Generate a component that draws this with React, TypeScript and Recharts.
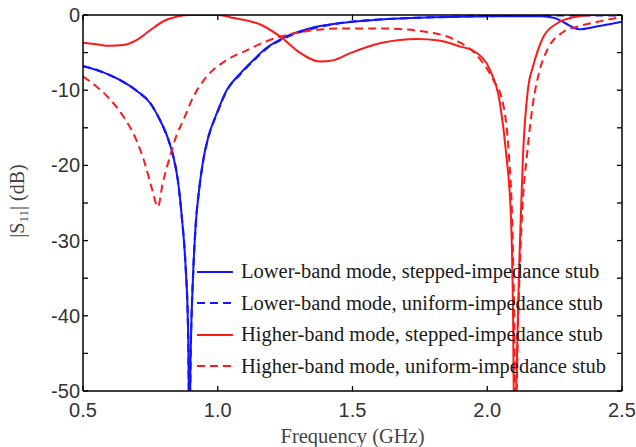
import { LineChart, Line, XAxis, YAxis } from "recharts";

// frequency (GHz) / |S11| (dB)
const lowerSteppedF = [0.5, 0.55, 0.6, 0.65, 0.7, 0.749, 0.786, 0.817, 0.835, 0.852, 0.867, 0.88, 0.89, 0.895, 0.9, 0.908, 0.918, 0.93, 0.946, 0.965, 0.996, 1.033, 1.083, 1.132, 1.18, 1.24, 1.34, 1.45, 1.6, 1.8, 2.0, 2.2, 2.25, 2.29, 2.34, 2.41, 2.5];
const lowerSteppedS = [-6.8, -7.3, -8.0, -8.9, -10.1, -11.7, -14, -16.6, -18.8, -22, -27, -33, -42, -55, -44, -35, -28, -23.5, -19.3, -16.2, -13.1, -10, -7.8, -6.0, -4.4, -3.1, -1.8, -1.1, -0.6, -0.3, -0.15, -0.15, -0.4, -1.1, -1.9, -1.5, -0.9];

const lowerUniformF = [0.5, 0.55, 0.6, 0.65, 0.7, 0.749, 0.786, 0.817, 0.835, 0.852, 0.867, 0.88, 0.89, 0.895, 0.9, 0.908, 0.918, 0.93, 0.946, 0.965, 0.996, 1.033, 1.083, 1.132, 1.18, 1.24, 1.34, 1.45, 1.6, 1.8, 2.0, 2.2, 2.3, 2.4, 2.5];
const lowerUniformS = [-6.8, -7.3, -8.0, -8.9, -10.1, -11.7, -14, -16.6, -18.8, -22, -27, -33, -42, -55, -44, -35, -28, -23.5, -19.4, -16.3, -13.2, -10.1, -7.9, -6.1, -4.5, -3.2, -1.9, -1.1, -0.6, -0.3, -0.15, -0.1, -0.05, -0.05, -0.05];

const higherSteppedF = [0.5, 0.55, 0.6, 0.65, 0.7, 0.75, 0.8, 0.85, 0.9, 1.0, 1.06, 1.16, 1.24, 1.3, 1.38, 1.43, 1.49, 1.61, 1.74, 1.82, 1.9, 1.95, 2.01, 2.047, 2.07, 2.088, 2.096, 2.1, 2.12, 2.133, 2.152, 2.17, 2.185, 2.21, 2.26, 2.32, 2.4, 2.5];
const higherSteppedS = [-3.7, -3.9, -4.1, -4.0, -3.3, -2.0, -0.8, -0.2, 0, 0, -0.4, -1.3, -3.1, -4.9, -6.2, -6.0, -5.1, -3.7, -3.2, -3.4, -4.2, -4.8, -7.3, -11.7, -18.4, -27, -40.5, -55, -31.6, -18.4, -9.6, -6.8, -5.0, -2.8, -1.1, -0.3, 0, 0];

const higherUniformF = [0.5, 0.55, 0.6, 0.65, 0.7, 0.73, 0.755, 0.778, 0.795, 0.81, 0.823, 0.845, 0.872, 0.909, 0.959, 1.033, 1.107, 1.18, 1.24, 1.34, 1.45, 1.61, 1.8, 1.89, 1.96, 2.02, 2.058, 2.08, 2.093, 2.1, 2.105, 2.115, 2.13, 2.148, 2.17, 2.195, 2.226, 2.28, 2.34, 2.41, 2.48, 2.5];
const higherUniformS = [-8.2, -9.5, -11.2, -13.5, -16.8, -19.8, -23, -25.5, -22.5, -20.4, -18.8, -16.2, -14, -10.9, -8.2, -6.0, -4.7, -3.5, -2.8, -2.1, -1.8, -1.8, -2.4, -3.5, -5.3, -8.5, -11.7, -18.5, -28, -40, -55, -40, -26, -18.4, -11.7, -7.3, -4.4, -2.3, -1.5, -0.9, -0.4, -0.3];

const xTicks = [0.5, 1.0, 1.5, 2.0, 2.5];
const yTicks = [-50, -45, -40, -35, -30, -25, -20, -15, -10, -5, 0];

const seriesNames = [
  "Lower-band mode, stepped-impedance stub",
  "Lower-band mode, uniform-impedance stub",
  "Higher-band mode, stepped-impedance stub",
  "Higher-band mode, uniform-impedance stub",
];

const toRows = (f: number[], s: number[]) => f.map((v, i) => ({ f: v, s: s[i] }));

const BLUE = "#1414ff";
const RED = "#ff1a1a";
const DASH = "8 5";
const SERIF = "'Liberation Serif', 'Times New Roman', serif";
const TICK_FONT = { fontFamily: "'Liberation Sans', Arial, sans-serif", fontSize: 20, fill: "#333" };

const BottomTick = ({ x, y, payload }: any) => (
  <g>
    <line x1={x} y1={y} x2={x} y2={y - 5} stroke="#000" strokeWidth={1.3} />
    <text x={x} y={y + 26} textAnchor="middle" {...TICK_FONT}>
      {Number(payload.value).toFixed(1)}
    </text>
  </g>
);

const TopTick = ({ x, y }: any) => (
  <line x1={x} y1={y} x2={x} y2={y + 5} stroke="#000" strokeWidth={1.3} />
);

const LeftTick = ({ x, y, payload }: any) => (
  <g>
    <line x1={x} y1={y} x2={x + 5} y2={y} stroke="#000" strokeWidth={1.3} />
    {payload.value % 10 === 0 && (
      <text x={x - 3} y={y + 7} textAnchor="end" {...TICK_FONT}>
        {payload.value}
      </text>
    )}
  </g>
);

const RightTick = ({ x, y }: any) => (
  <line x1={x} y1={y} x2={x - 5} y2={y} stroke="#000" strokeWidth={1.3} />
);

const legendStyles = [
  { color: BLUE, dash: undefined },
  { color: BLUE, dash: DASH },
  { color: RED, dash: undefined },
  { color: RED, dash: DASH },
];

const LegendBox = () => (
  <div
    style={{
      position: "absolute",
      left: 196,
      top: 256,
      fontFamily: SERIF,
      fontSize: 20.5,
      color: "#1a1a1a",
      pointerEvents: "none",
    }}
  >
    {seriesNames.map((name, i) => (
      <div key={name} style={{ display: "flex", alignItems: "center", height: 31.5 }}>
        <svg width={45} height={10}>
          <line
            x1={1}
            y1={5}
            x2={37}
            y2={5}
            stroke={legendStyles[i].color}
            strokeWidth={2.2}
            strokeDasharray={legendStyles[i].dash}
          />
        </svg>
        <span style={{ whiteSpace: "nowrap" }}>{name}</span>
      </div>
    ))}
  </div>
);

const YLabel = () => (
  <text
    transform="translate(24,201) rotate(-90)"
    textAnchor="middle"
    fontFamily={SERIF}
    fontSize={20}
    fill="#444"
  >
    |S<tspan fontSize={13} dy={4}>11</tspan>
    <tspan dy={-4}>| (dB)</tspan>
  </text>
);

const XLabel = ({ viewBox }: any) => (
  <text
    x={viewBox.x + viewBox.width / 2}
    y={viewBox.y + 52}
    textAnchor="middle"
    fontFamily={SERIF}
    fontSize={20.5}
    fill="#444"
  >
    Frequency (GHz)
  </text>
);

export default function App() {
  return (
    <div style={{ width: 636, height: 447, background: "#fff", position: "relative" }}>
      <style>{"body{margin:0}"}</style>
      <LineChart width={636} height={447} margin={{ top: 0, right: 0, bottom: 0, left: 0 }}>
        <XAxis
          xAxisId="b"
          dataKey="f"
          type="number"
          domain={[0.5, 2.5]}
          ticks={xTicks}
          interval={0}
          allowDataOverflow
          height={56}
          tickSize={0}
          tickMargin={0}
          tickLine={false}
          tick={<BottomTick />}
          axisLine={{ stroke: "#000", strokeWidth: 1.5 }}
          label={<XLabel />}
        />
        <XAxis
          xAxisId="t"
          orientation="top"
          type="number"
          dataKey="f"
          domain={[0.5, 2.5]}
          ticks={xTicks}
          interval={0}
          allowDataOverflow
          height={15}
          tickSize={0}
          tickMargin={0}
          tickLine={false}
          tick={<TopTick />}
          axisLine={{ stroke: "#000", strokeWidth: 1.5 }}
        />
        <YAxis
          yAxisId="l"
          type="number"
          domain={[-50, 0]}
          ticks={yTicks}
          interval={0}
          allowDataOverflow
          width={83}
          tickSize={0}
          tickMargin={0}
          tickLine={false}
          tick={<LeftTick />}
          axisLine={{ stroke: "#000", strokeWidth: 1.5 }}
          label={<YLabel />}
        />
        <YAxis
          yAxisId="r"
          orientation="right"
          type="number"
          domain={[-50, 0]}
          ticks={yTicks}
          interval={0}
          allowDataOverflow
          width={14}
          tickSize={0}
          tickMargin={0}
          tickLine={false}
          tick={<RightTick />}
          axisLine={{ stroke: "#000", strokeWidth: 1.5 }}
        />
        <Line
          xAxisId="b"
          yAxisId="l"
          data={toRows(lowerUniformF, lowerUniformS)}
          dataKey="s"
          type="monotone"
          stroke={BLUE}
          strokeWidth={2.2}
          strokeDasharray={DASH}
          dot={false}
          isAnimationActive={false}
        />
        <Line
          xAxisId="b"
          yAxisId="l"
          data={toRows(lowerSteppedF, lowerSteppedS)}
          dataKey="s"
          type="monotone"
          stroke={BLUE}
          strokeWidth={2}
          dot={false}
          isAnimationActive={false}
        />
        <Line
          xAxisId="b"
          yAxisId="l"
          data={toRows(higherUniformF, higherUniformS)}
          dataKey="s"
          type="monotone"
          stroke={RED}
          strokeWidth={2}
          strokeDasharray={DASH}
          dot={false}
          isAnimationActive={false}
        />
        <Line
          xAxisId="b"
          yAxisId="l"
          data={toRows(higherSteppedF, higherSteppedS)}
          dataKey="s"
          type="monotone"
          stroke={RED}
          strokeWidth={2}
          dot={false}
          isAnimationActive={false}
        />
      </LineChart>
      <LegendBox />
    </div>
  );
}
